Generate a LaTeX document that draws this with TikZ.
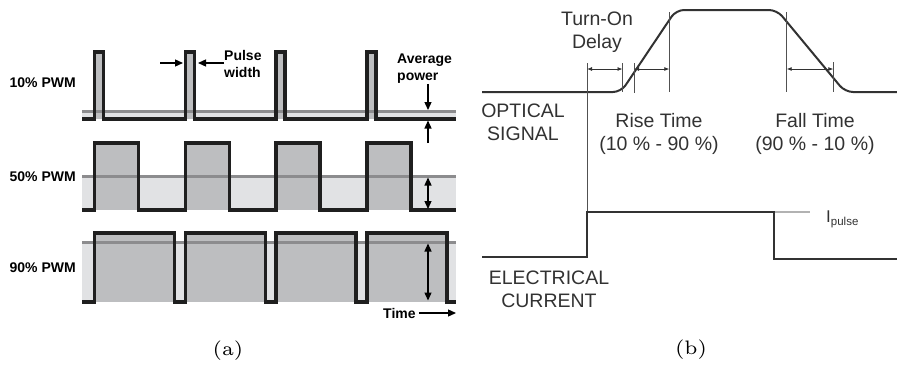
\documentclass[tikz,border=0pt]{standalone}
\usepackage{fontspec}
\newfontfamily\arialfont{Liberation Sans}
\usetikzlibrary{arrows.meta}
\definecolor{pulsegray}{RGB}{189,190,192}
\definecolor{bandgray}{RGB}{225,226,228}
\definecolor{avggray}{RGB}{140,140,142}
\definecolor{inkgray}{RGB}{50,50,50}

\begin{document}
\begin{tikzpicture}[x=1pt,y=-1pt,
    lbl/.style={font=\arialfont\bfseries\fontsize{14}{17}\selectfont,align=left,inner sep=0pt},
    txt/.style={font=\arialfont\fontsize{19.5}{22.5}\selectfont,text=inkgray,align=center,inner sep=0pt},
    subcap/.style={font=\fontsize{6}{7}\selectfont,inner sep=0pt},
    wave/.style={line width=3.5pt,black!88},
    avg/.style={line width=3pt,avggray},
    arrow/.style={-{Triangle[length=8pt,width=7pt]},line width=1.3pt},
    darrow/.style={{Triangle[length=8pt,width=7pt]}-{Triangle[length=8pt,width=7pt]},line width=1.3pt},
    sig/.style={line width=2pt,inkgray,rounded corners=8pt},
    guide/.style={line width=1pt,inkgray!85},
    small/.style={{Latex[length=5pt,width=4pt]}-{Latex[length=5pt,width=4pt]},line width=0.8pt,inkgray}]
    \useasboundingbox (0,0) rectangle (897,365);

    \foreach \t/\a/\b/\w in {52/111/119/9, 143/176.5/210/44, 233/242/302/80} {
        \fill[bandgray] (82,\a) rectangle (456,\b);
        \foreach \s in {94.5,185.3,276.1,366.9}
            \fill[pulsegray] (\s,\t) rectangle (\s+\w,\b);
        \draw[avg] (82,\a) -- (456,\a);
        \draw[wave,line join=miter] (82,\b)
            foreach \s in {94.5,185.3,276.1,366.9} { -- (\s,\b) -- (\s,\t) -- (\s+\w,\t) -- (\s+\w,\b) }
            -- (456,\b);
    }

    \node[lbl,anchor=east] (p10) at (76,83) {10\% PWM};
    \node[lbl,anchor=east] (p50) at (76,177) {50\% PWM};
    \node[lbl,anchor=east] (p90) at (76,268) {90\% PWM};
    \node[lbl,anchor=west] (pw) at (224,63.5) {Pulse\\width};
    \node[lbl,anchor=west] (ap) at (397,69) {Average\\power};
    \node[lbl,anchor=west] (time) at (383,313) {Time};

    \coordinate (pwa) at (160,63);
    \coordinate (pwb) at (183,63);
    \coordinate (pwc) at (198,63);
    \draw[arrow] (pwa) -- (pwb);
    \draw[arrow] (pw.west |- pwc) -- (pwc);

    \coordinate (a10t) at (428,110);
    \coordinate (a10b) at (428,120.5);
    \draw[arrow] (ap.south west -| a10t) -- (a10t);
    \draw[arrow] (428,143) -- (a10b);
    \coordinate (a50t) at (428,177.5);
    \coordinate (a50b) at (428,209);
    \draw[darrow] (a50t) -- (a50b);
    \coordinate (a90t) at (428,243.5);
    \coordinate (a90b) at (428,300.5);
    \draw[darrow] (a90t) -- (a90b);
    \coordinate (tend) at (456,313);
    \draw[arrow] ([xshift=3pt]time.east) -- (tend);

    \draw[sig] (482,92) -- (621,92) -- (676,10) -- (777,10) -- (845,92) -- (897,92);
    \draw[sig,rounded corners=0pt] (482,257) -- (587,257) -- (587,212) -- (774,212) -- (774,259) -- (897,259);
    \draw[line width=1.2pt,gray!60] (775,212) -- (810,212);

    \draw[guide] (587,63) -- (587,211);
    \draw[guide] (622.5,63) -- (622.5,92);
    \draw[guide] (634,63) -- (634,93);
    \draw[guide] (669.3,12) -- (669.3,92);
    \draw[guide] (786.7,12) -- (786.7,92);
    \draw[guide] (833.3,62) -- (833.3,92);

    \coordinate (d1) at (587,69);
    \coordinate (d2) at (622.5,69);
    \coordinate (r1) at (634,69);
    \coordinate (r2) at (669.3,69);
    \coordinate (f1) at (786.7,69);
    \coordinate (f2) at (833.3,69);
    \draw[small] (d1) -- (d2);
    \draw[small] (r1) -- (r2);
    \draw[small] (f1) -- (f2);

    \node[txt] (delay) at (597,32) {Turn-On\\Delay};
    \node[txt] (optical) at (523,122.3) {OPTICAL\\SIGNAL};
    \node[txt] (rise) at (659,133.7) {Rise Time\\(10 \% - 90 \%)};
    \node[txt] (fall) at (815,133.7) {Fall Time\\(90 \% - 10 \%)};
    \node[txt] (elec) at (549,289.5) {ELECTRICAL\\CURRENT};
    \node[txt,anchor=west] (ipulse) at (826,219) {\fontsize{17}{18}\selectfont I\raisebox{-3pt}{\fontsize{11.5}{12}\selectfont pulse}};

    \node[subcap] (capa) at (228,350.5) {\scalebox{3.25}{(a)}};
    \node[subcap] (capb) at (691,350) {\scalebox{3.25}{(b)}};
\end{tikzpicture}
\end{document}
